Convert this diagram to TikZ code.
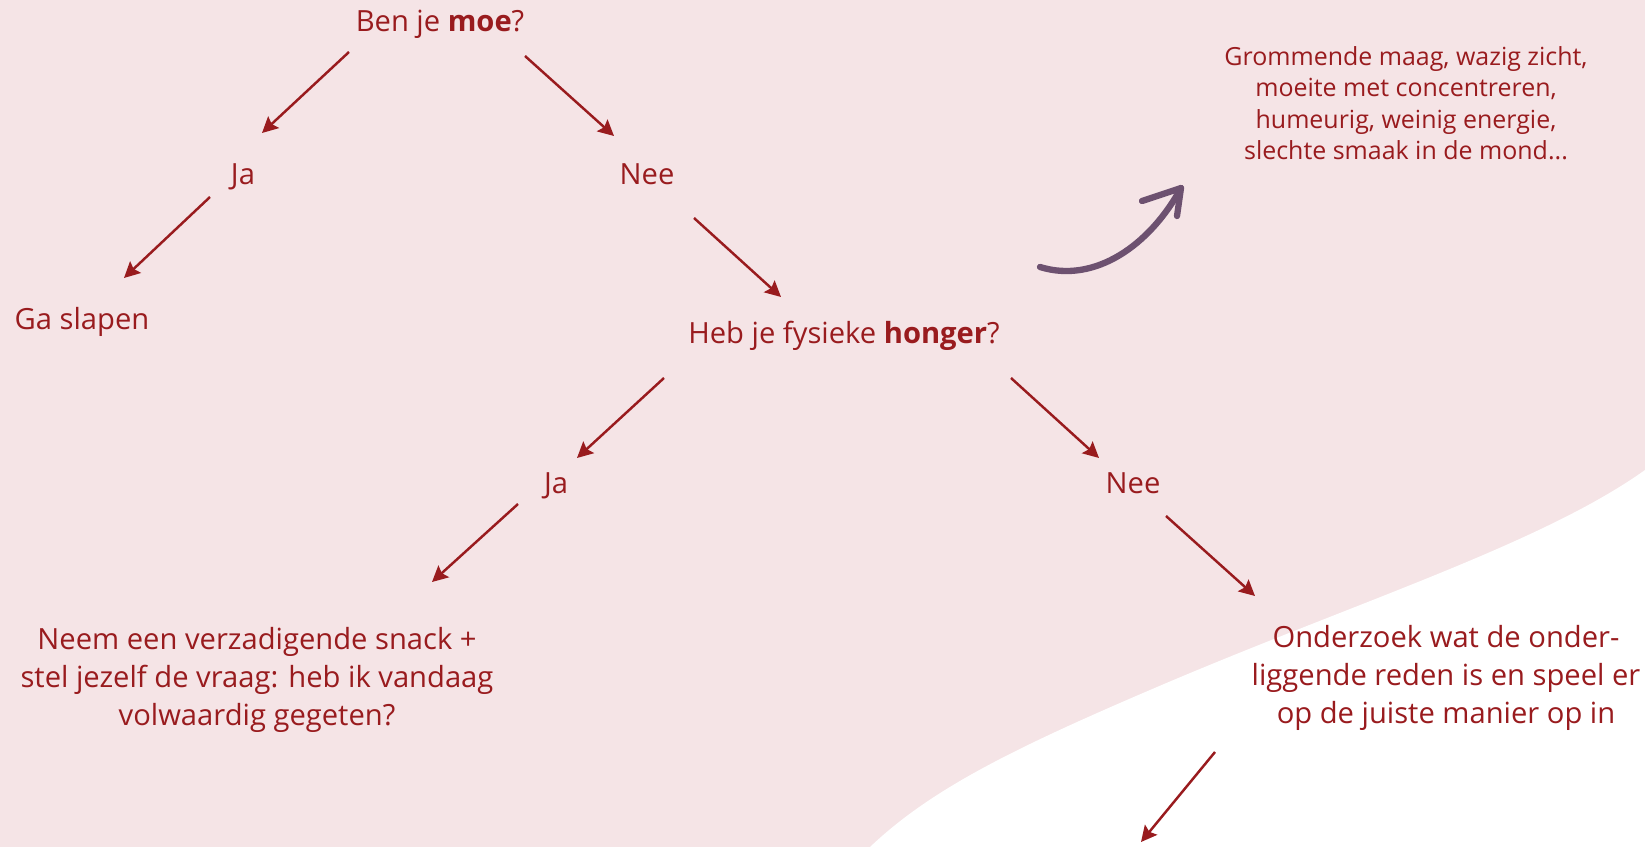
\documentclass[tikz,border=0pt]{standalone}
\usepackage{fontspec}
\setmainfont{Open Sans}
\usetikzlibrary{arrows.meta}
\definecolor{roodtekst}{HTML}{991B1E}
\definecolor{roze}{HTML}{F5E4E6}
\definecolor{paars}{HTML}{6D5170}

\begin{document}
\begin{tikzpicture}[x=0.02cm, y=-0.02cm,
        tekst/.style={text=roodtekst, inner sep=0pt, anchor=base, font=\fontsize{16.6pt}{21.6pt}\selectfont},
        blok/.style={tekst, align=center},
        pijl/.style={draw=roodtekst, line width=1.4pt, -{Stealth[length=9pt, width=9pt, inset=1.5pt]}}]
        % Background with the white wave
        \fill[roze] (0,0) rectangle (1645,847);
        \fill[white] (870,847) .. controls (930,790) and (1010,750) .. (1150,690)
            .. controls (1350,604) and (1540,545) .. (1645,470) -- (1645,847) -- cycle;
        \useasboundingbox (0,0) rectangle (1645,847);

        % Questions and answers (multi-line nodes sit on their last line)
        \node[tekst] (moe) at (440,32) {Ben je \textbf{moe}?};
        \node[tekst] (ja1) at (243,185) {Ja};
        \node[tekst] (nee1) at (647,185) {Nee};
        \node[tekst] (slapen) at (82,330) {Ga slapen};
        \node[tekst] (honger) at (844,344) {Heb je fysieke \textbf{honger}?};
        \node[tekst] (ja2) at (556,493) {Ja};
        \node[tekst] (nee2) at (1133,493) {Nee};
        \node[blok] (snack) at (257,725) {Neem een verzadigende snack +\\stel jezelf de vraag: heb ik vandaag\\volwaardig gegeten?};
        \node[blok] (reden) at (1446,723) {Onderzoek wat de onder-\\liggende reden is en speel er\\op de juiste manier op in};
        \node[blok, font=\fontsize{14.2pt}{18pt}\selectfont] (klachten) at (1406,160) {Grommende maag, wazig zicht,\\moeite met concentreren,\\humeurig, weinig energie,\\slechte smaak in de mond...};
        \coordinate (verder) at (1141,842);

        % Arrows between the steps
        \draw[pijl] ([shift={(-91,20)}]moe.base) -- ([shift={(19,-52)}]ja1.base);
        \draw[pijl] ([shift={(85,24)}]moe.base) -- ([shift={(-33,-49)}]nee1.base);
        \draw[pijl] ([shift={(-33,12)}]ja1.base) -- ([shift={(42,-52)}]slapen.base);
        \draw[pijl] ([shift={(47,33)}]nee1.base) -- ([shift={(-63,-47)}]honger.base);
        \draw[pijl] ([shift={(-180,34)}]honger.base) -- ([shift={(21,-35)}]ja2.base);
        \draw[pijl] ([shift={(167,34)}]honger.base) -- ([shift={(-34,-35)}]nee2.base);
        \draw[pijl] ([shift={(-38,11)}]ja2.base) -- ([shift={(175,-143)}]snack.base);
        \draw[pijl] ([shift={(33,23)}]nee2.base) -- ([shift={(-191,-127)}]reden.base);
        \draw[pijl] ([shift={(-231,29)}]reden.base) -- (verder);

        % Hand drawn arrow towards the symptoms
        \draw[paars, line width=3.6pt, line cap=round, line join=round] (1040,267) .. controls (1095,284) and (1150,245) .. (1181,188);
        \draw[paars, line width=3.6pt, line cap=round, line join=round] (1142,201) -- (1181,188) -- (1177,216);
    \end{tikzpicture}
\end{document}
